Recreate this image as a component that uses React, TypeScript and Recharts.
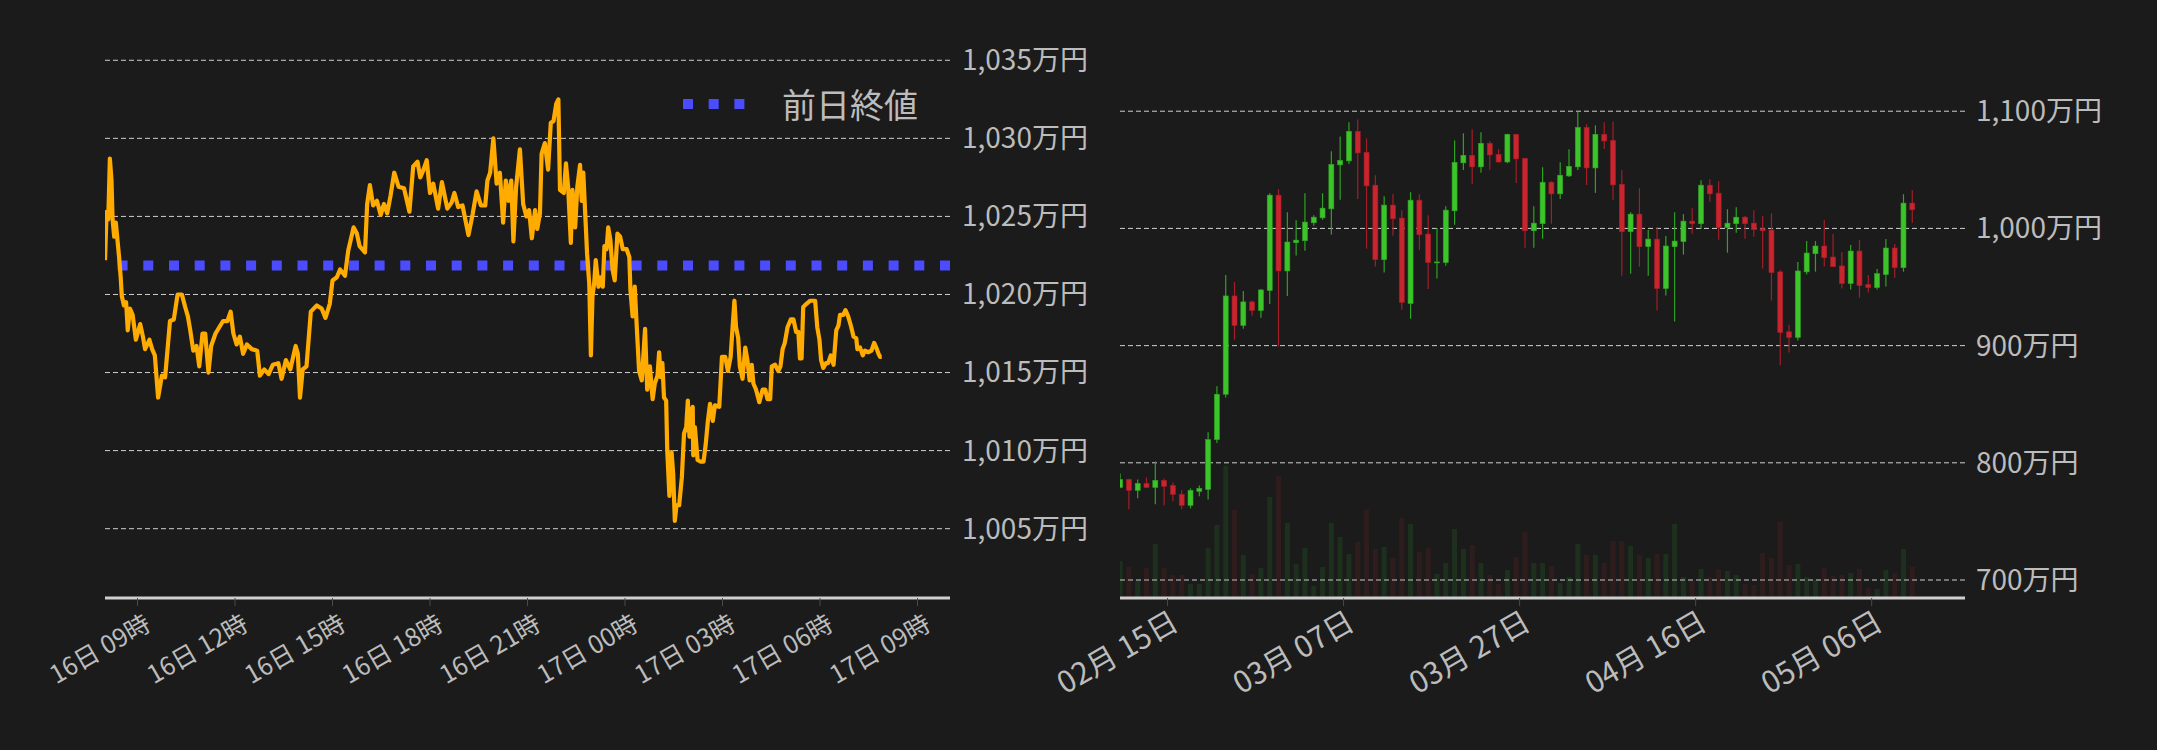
import React from "react";
import {
  ComposedChart,
  Line,
  Bar,
  Cell,
  XAxis,
  YAxis,
  CartesianGrid,
  ReferenceLine,
  Legend,
} from "recharts";

const BG = "#1b1b1b";
const TEXT = "#bcbcbc";
const GRID = "#cfcfcf";
const FONT = "'Noto Sans CJK JP', 'Noto Sans', sans-serif";
const PRICE_COLOR = "#ffab00";
const PREV_COLOR = "#4c4cff";
const UP = "#3cc52a";
const UP_EDGE = "#2fa322";
const DOWN = "#c9252f";
const DOWN_EDGE = "#a31e27";

// ---- intraday (minutes from 16日 00:00, price in 万円) ----
const minutes = [
  480, 483, 486, 489, 492, 494, 497, 500, 503, 506, 509, 511, 515, 519, 522, 526, 531, 537, 545, 550,
  554, 562, 567, 572, 578, 585, 591, 596, 600, 607, 614, 622, 628, 633, 637, 643, 649, 654, 660, 665,
  671, 676, 684, 691, 698, 706, 712, 717, 723, 729, 735, 742, 751, 761, 766, 774, 782, 790, 800, 806,
  814, 822, 832, 836, 840, 845, 852, 860, 871, 880, 887, 895, 900, 908, 914, 923, 929, 939, 945, 950,
  960, 964, 969, 975, 982, 989, 995, 1001, 1007, 1014, 1022, 1032, 1042, 1049, 1057, 1062, 1068, 1074, 1080, 1086,
  1095, 1102, 1112, 1120, 1125, 1132, 1140, 1151, 1159, 1166, 1174, 1182, 1186, 1191, 1197, 1203, 1209, 1215, 1220, 1225,
  1230, 1234, 1239, 1246, 1252, 1258, 1263, 1268, 1274, 1278, 1283, 1286, 1292, 1298, 1303, 1308, 1313, 1317, 1320, 1327,
  1331, 1335, 1340, 1343, 1348, 1352, 1357, 1360, 1363, 1368, 1370, 1374, 1377, 1380, 1383, 1386, 1391, 1394, 1399, 1402,
  1406, 1409, 1413, 1417, 1421, 1426, 1431, 1436, 1443, 1448, 1450, 1454, 1458, 1461, 1466, 1471, 1477, 1481, 1486, 1491,
  1495, 1500, 1503, 1506, 1509, 1512, 1516, 1518, 1522, 1526, 1529, 1532, 1535, 1540, 1545, 1549, 1553, 1556, 1559, 1562,
  1565, 1566, 1569, 1574, 1579, 1585, 1589, 1593, 1597, 1602, 1606, 1614, 1619, 1625, 1630, 1635, 1639, 1642, 1645, 1649,
  1652, 1657, 1662, 1666, 1670, 1674, 1677, 1682, 1688, 1694, 1699, 1703, 1708, 1711, 1717, 1723, 1727, 1731, 1735, 1740,
  1746, 1751, 1756, 1760, 1763, 1766, 1769, 1775, 1782, 1791, 1795, 1799, 1802, 1806, 1811, 1815, 1820, 1825, 1830, 1834,
  1837, 1843, 1847, 1852, 1857, 1862, 1867, 1869, 1874, 1879, 1883, 1889, 1895, 1900, 1905, 1908, 1911, 1914,
];
const prices = [
  1022.2, 1025.3, 1024.8, 1028.7, 1027.3, 1024.8, 1023.7, 1024.6, 1023.5, 1022.4, 1021.1, 1019.9, 1019.3, 1019.5, 1017.7, 1019.1, 1018.7, 1017.1, 1018.1, 1017.3,
  1016.5, 1017.1, 1016.5, 1016.1, 1013.4, 1014.8, 1014.7, 1016.7, 1018.3, 1018.4, 1020.0, 1020.0, 1019.2, 1018.6, 1017.8, 1016.4, 1016.7, 1015.4, 1017.5, 1017.5,
  1015.0, 1016.7, 1017.5, 1017.9, 1018.3, 1018.3, 1018.9, 1017.5, 1016.8, 1017.3, 1016.2, 1016.8, 1016.5, 1016.4, 1014.8, 1015.2, 1014.9, 1015.5, 1015.6, 1014.6,
  1015.8, 1015.2, 1016.7, 1016.2, 1013.4, 1015.2, 1015.4, 1018.9, 1019.3, 1019.1, 1018.5, 1019.4, 1020.9, 1021.1, 1021.6, 1021.2, 1022.8, 1024.3, 1023.9, 1023.1,
  1022.7, 1025.8, 1027.0, 1025.7, 1026.0, 1025.1, 1025.8, 1025.2, 1026.3, 1027.8, 1026.9, 1026.8, 1025.3, 1028.2, 1028.5, 1027.5, 1028.0, 1028.6, 1026.5, 1027.1,
  1025.5, 1027.2, 1025.5, 1025.9, 1026.5, 1025.6, 1025.7, 1023.8, 1025.2, 1026.6, 1025.7, 1025.7, 1027.3, 1027.8, 1030.0, 1027.1, 1027.8, 1024.6, 1027.3, 1026.0,
  1027.3, 1023.4, 1026.9, 1029.3, 1025.8, 1025.0, 1025.4, 1023.6, 1025.4, 1024.2, 1025.2, 1029.0, 1029.7, 1028.0, 1031.0, 1031.1, 1032.2, 1032.5, 1026.7, 1026.5,
  1028.4, 1026.9, 1023.3, 1026.7, 1024.3, 1026.9, 1028.3, 1026.0, 1027.8, 1024.1, 1022.6, 1020.7, 1016.1, 1019.9, 1020.7, 1022.2, 1020.5, 1021.1, 1020.5, 1023.1,
  1022.9, 1024.3, 1023.5, 1021.6, 1020.9, 1023.9, 1023.7, 1022.9, 1022.9, 1022.4, 1020.3, 1018.6, 1020.5, 1018.4, 1015.1, 1014.5, 1017.8, 1013.9, 1015.4, 1013.3,
  1014.3, 1014.8, 1016.3, 1014.7, 1015.6, 1013.4, 1013.2, 1010.0, 1007.1, 1009.9, 1008.5, 1005.5, 1006.5, 1006.5, 1008.3, 1011.1, 1011.5, 1013.2, 1010.9, 1012.6,
  1012.8, 1009.7, 1011.5, 1009.4, 1009.3, 1009.3, 1010.4, 1011.9, 1013.0, 1011.9, 1012.9, 1012.8, 1016.0, 1016.0, 1015.1, 1016.0, 1018.1, 1019.6, 1017.9, 1017.2,
  1015.4, 1014.6, 1016.6, 1015.8, 1014.5, 1015.5, 1014.3, 1013.9, 1013.1, 1013.9, 1013.9, 1013.3, 1013.3, 1015.4, 1015.5, 1015.1, 1015.4, 1016.5, 1016.9, 1017.9,
  1018.4, 1018.4, 1017.6, 1017.6, 1015.9, 1015.9, 1019.2, 1019.4, 1019.6, 1019.6, 1017.9, 1017.1, 1015.8, 1015.3, 1015.6, 1015.6, 1016.1, 1015.5, 1017.7, 1018.0,
  1018.7, 1018.7, 1019.0, 1018.6, 1018.0, 1017.3, 1017.2, 1016.5, 1016.6, 1016.1, 1016.4, 1016.3, 1016.4, 1016.9, 1016.5, 1016.2, 1016.0, 1016.0,
];
const prevClose = 1021.86;
const prevCloseLabel = "前日終値";
const hourTicks = [540, 720, 900, 1080, 1260, 1440, 1620, 1800, 1980];
const hourLabels = [
  "16日 09時", "16日 12時", "16日 15時", "16日 18時", "16日 21時",
  "17日 00時", "17日 03時", "17日 06時", "17日 09時",
];
const intradayTicks = [1005, 1010, 1015, 1020, 1025, 1030, 1035];

// ---- daily candles (万円) ----
const opens = [
  779, 785.8, 776.5, 782.4, 779, 785, 780.7, 773.1, 763.7, 775.6,
  777.3, 819.8, 858.5, 942.4, 917.2, 937.3, 930, 947, 1028.4, 963.7,
  987.8, 989.5, 1004.8, 1009, 1016.7, 1054.2, 1057.6, 1082.8, 1064.9, 1036.9,
  973.3, 1019.9, 1008.8, 935.9, 1024.1, 995.2, 970.8, 970.8, 1015, 1055.9,
  1062.4, 1052.5, 1072.6, 1063.2, 1056.7, 1080.3, 1059.8, 998, 1004, 1039.4,
  1029.5, 1044.8, 1052.5, 1086.2, 1051.6, 1080.3, 1075.1, 1037.7, 997.2, 1012.2,
  984.4, 990.9, 948.7, 984.4, 988.7, 1006.2, 1004, 1036.9, 1030.1, 1000.6,
  1004, 1009.6, 1004.5, 999.7, 998.6, 962.9, 911.8, 907, 962.9, 978.4,
  985, 975.6, 968, 952.9, 980.7, 952.1, 949.5, 960.6, 983.3, 966.5,
  1021.6,
];
const highs = [
  790.9, 786.5, 785.8, 787.5, 801.1, 786.7, 783.3, 776.5, 778.2, 780.7,
  826, 865.3, 960.3, 954.3, 946.7, 938.5, 948.4, 1030, 1033.5, 1013.9,
  1007, 1030, 1011.3, 1030, 1065.8, 1078.5, 1090.5, 1093, 1076.8, 1045.4,
  1027.5, 1029.2, 1015.6, 1030.9, 1029.2, 1011.3, 1000.3, 1019, 1075.1, 1081.1,
  1084.5, 1082, 1074.3, 1067.5, 1080.8, 1080.8, 1060.2, 1019, 1052.2, 1040.3,
  1056.4, 1067.5, 1099.5, 1088.8, 1088, 1090.5, 1091.3, 1049.6, 1013.9, 1034.3,
  998.6, 1001.1, 993.5, 1013.9, 1012.2, 1017.3, 1041.1, 1042, 1040.3, 1016.4,
  1018.1, 1010.5, 1015.6, 1010.5, 1013, 964.6, 917.8, 971.4, 989.2, 989.2,
  1007.1, 995.2, 979.9, 985.8, 990, 960.3, 965.4, 990.9, 986.7, 1029.2,
  1032.6,
];
const lows = [
  778.2, 760.3, 769.7, 778.5, 764.6, 763.7, 767.1, 760.3, 761.1, 771.4,
  768.8, 817, 855.7, 905, 914.4, 925.4, 923.7, 935.6, 899.3, 942.4,
  976.8, 981, 1002.3, 1007.4, 994.6, 1024.4, 1055, 1025.2, 982.7, 967.4,
  962.3, 993.8, 930.5, 922.9, 981.6, 948.4, 957.2, 968.2, 1003.1, 1049.9,
  1038, 1047.4, 1050, 1055.9, 1055.6, 1038.8, 983.6, 983.6, 991.2, 1004,
  1025.2, 1043.9, 1049.9, 1037.1, 1030.3, 1067.8, 1024.4, 959.7, 961.4, 967.4,
  959.7, 930, 942.7, 920.6, 977.6, 995.5, 999.7, 1022.7, 990.4, 979.3,
  996.3, 991.2, 992.9, 965.7, 938.5, 883.2, 894.2, 904.4, 960.6, 963.1,
  967.4, 967, 948.7, 947.8, 941, 945.3, 947.8, 950.4, 958, 963.1,
  1004.8,
];
const closes = [
  785.8, 776.5, 782.4, 779, 785, 779.9, 773.1, 763.7, 776.5, 778.2,
  819.8, 858.5, 942.4, 917.2, 937.3, 930, 947.5, 1028.4, 963.7, 988.4,
  990, 1005.4, 1009.6, 1017.3, 1054.7, 1058, 1082.8, 1064.4, 1036.3, 973.3,
  1019.9, 1008.2, 936.8, 1024.1, 994.6, 970.8, 971.4, 1015.6, 1056.4, 1062.4,
  1052.5, 1072.6, 1062.7, 1056.7, 1080.3, 1059.3, 998, 1004.5, 1039.4, 1029.5,
  1045.4, 1053, 1086.2, 1051.6, 1080.3, 1074.6, 1037.1, 997.2, 1012.2, 984.4,
  990.9, 948.7, 985, 989.2, 1006.2, 1004, 1036.9, 1029.5, 1000.6, 1004.5,
  1009.6, 1004, 998.9, 998, 962.3, 911.2, 907, 963.7, 979, 985,
  975, 967.4, 952.9, 980.7, 951.2, 949.5, 961.4, 983.3, 966.5, 1021.6,
  1015.9,
];
const volumes = [
  37, 31, 18, 30, 54, 30, 23, 23, 14, 14,
  50, 73, 132, 88, 43, 24, 30, 101, 122, 75,
  34, 50, 12, 31, 75, 61, 44, 56, 88, 49,
  51, 40, 80, 74, 46, 50, 24, 35, 69, 49,
  53, 35, 23, 14, 28, 41, 66, 35, 35, 32,
  15, 21, 54, 43, 43, 35, 57, 57, 52, 43,
  40, 44, 44, 74, 21, 17, 29, 21, 29, 27,
  23, 14, 13, 45, 40, 76, 33, 34, 21, 18,
  30, 22, 23, 25, 29, 10, 9, 28, 25, 49,
  31,
];
const dayTicks = [5.4, 25.4, 45.4, 65.4, 85.4];
const dayLabels = ["02月 15日", "03月 07日", "03月 27日", "04月 16日", "05月 06日"];
const dailyTicks = [700, 800, 900, 1000, 1100];

const intraday = minutes.map((t, i) => ({ t, price: prices[i] }));
const daily = opens.map((open, i) => ({
  i,
  open,
  high: highs[i],
  low: lows[i],
  close: closes[i],
  volume: volumes[i],
}));

const yen = (v: number) => `${v.toLocaleString("en-US")}万円`;

const SlantTick = (props: any) => {
  const { x, y, payload, ticks, labels, fontSize, dx, dy } = props;
  const label = labels[ticks.indexOf(payload.value)];
  const ax = x + dx;
  const ay = y + dy;
  return (
    <text
      x={ax}
      y={ay}
      transform={`rotate(-30, ${ax}, ${ay})`}
      textAnchor="end"
      fill={TEXT}
      fontSize={fontSize}
      fontFamily={FONT}
    >
      {label}
    </text>
  );
};

const Candle = (props: any) => {
  const { x, y, width, height, payload } = props;
  if (x == null || y == null || !payload) return null;
  const { open, close, high, low } = payload;
  const up = close >= open;
  const k = high > low ? height / (high - low) : 0;
  const top = y + (high - Math.max(open, close)) * k;
  const bottom = y + (high - Math.min(open, close)) * k;
  const cx = x + width / 2;
  return (
    <g>
      <line x1={cx} x2={cx} y1={y} y2={y + height} stroke={up ? UP_EDGE : DOWN_EDGE} strokeWidth={1.2} />
      <rect
        x={x}
        y={top}
        width={width}
        height={Math.max(bottom - top, 1)}
        fill={up ? UP : DOWN}
        stroke={up ? UP_EDGE : DOWN_EDGE}
        strokeWidth={0.6}
      />
    </g>
  );
};

// legend: dotted marker + label, as HTML so the text is never clipped
const PrevCloseLegend = () => (
  <div style={{ display: "flex", alignItems: "center", whiteSpace: "nowrap" }}>
    <svg width={76} height={20} style={{ display: "block" }}>
      <line x1={7} x2={69} y1={10} y2={10} stroke={PREV_COLOR} strokeWidth={10} strokeDasharray="10 15.7" />
    </svg>
    <span style={{ marginLeft: 30, color: TEXT, fontSize: 34, fontFamily: FONT, lineHeight: "44px" }}>
      {prevCloseLabel}
    </span>
  </div>
);

function IntradayChart() {
  return (
    <ComposedChart width={1100} height={750} data={intraday} margin={{ top: 30, right: 0, bottom: 0, left: 105 }}>
      <CartesianGrid vertical={false} horizontalValues={intradayTicks} stroke={GRID} strokeDasharray="5 3" />
      <XAxis
        type="number"
        dataKey="t"
        domain={[480, 2040]}
        ticks={hourTicks}
        interval={0}
        allowDataOverflow
        height={152}
        axisLine={{ stroke: "#cfcfcf", strokeWidth: 3 }}
        tickLine={{ stroke: "#4a4a4a" }}
        tickSize={8}
        tickMargin={2}
        tick={(p: any) => <SlantTick {...p} ticks={hourTicks} labels={hourLabels} fontSize={25} dx={15} dy={21} />}
      />
      <YAxis
        orientation="right"
        domain={[1000.56, 1036.94]}
        ticks={intradayTicks}
        interval={0}
        allowDataOverflow
        width={150}
        axisLine={false}
        tickLine={false}
        tickSize={6}
        tickMargin={6}
        tickFormatter={yen}
        tick={{ fill: TEXT, fontSize: 28, fontFamily: FONT }}
      />
      <ReferenceLine y={prevClose} stroke={PREV_COLOR} strokeWidth={10} strokeDasharray="10 15.7" />
      <Line
        type="linear"
        dataKey="price"
        stroke={PRICE_COLOR}
        strokeWidth={4.2}
        strokeLinejoin="round"
        dot={false}
        isAnimationActive={false}
      />
      <Legend
        verticalAlign="middle"
        align="center"
        layout="horizontal"
        content={() => <PrevCloseLegend />}
        wrapperStyle={{ left: 676, top: 82, width: 320, height: 44 }}
      />
    </ComposedChart>
  );
}

function DailyChart() {
  return (
    <ComposedChart width={1157} height={750} data={daily} margin={{ top: 30, right: 0, bottom: 0, left: 120 }}>
      <CartesianGrid
        vertical={false}
        horizontalValues={dailyTicks}
        stroke={GRID}
        strokeDasharray="5 3"
        xAxisId="px"
        yAxisId="px"
      />
      <XAxis
        xAxisId="px"
        type="number"
        dataKey="i"
        domain={[0, 96]}
        ticks={dayTicks}
        interval={0}
        allowDataOverflow
        height={152}
        axisLine={{ stroke: "#cfcfcf", strokeWidth: 3 }}
        tickLine={{ stroke: "#4a4a4a" }}
        tickSize={8}
        tickMargin={2}
        tick={(p: any) => <SlantTick {...p} ticks={dayTicks} labels={dayLabels} fontSize={30} dx={13} dy={20} />}
      />
      <XAxis xAxisId="vol" type="number" dataKey="i" domain={[0, 96]} allowDataOverflow hide />
      <YAxis
        yAxisId="px"
        orientation="right"
        domain={[684.65, 1169.3]}
        ticks={dailyTicks}
        interval={0}
        allowDataOverflow
        width={192}
        axisLine={false}
        tickLine={false}
        tickSize={6}
        tickMargin={5}
        tickFormatter={yen}
        tick={{ fill: TEXT, fontSize: 28, fontFamily: FONT }}
      />
      <YAxis yAxisId="vol" domain={[0, 568]} hide />
      <Bar xAxisId="vol" yAxisId="vol" dataKey="volume" barSize={5} isAnimationActive={false}>
        {daily.map((d, i) => (
          <Cell key={i} fill={d.close >= d.open ? "rgba(50,200,50,0.12)" : "rgba(200,50,50,0.12)"} />
        ))}
      </Bar>
      <Bar
        xAxisId="px"
        yAxisId="px"
        dataKey={(d: any) => [d.low, d.high]}
        barSize={5}
        shape={(p: any) => <Candle {...p} />}
        isAnimationActive={false}
      />
    </ComposedChart>
  );
}

export default function App() {
  return (
    <div style={{ position: "fixed", left: 0, top: 0, width: 2157, height: 750, background: BG, overflow: "hidden" }}>
      <div style={{ position: "absolute", left: 0, top: 0 }}>
        <IntradayChart />
      </div>
      <div style={{ position: "absolute", left: 1000, top: 0 }}>
        <DailyChart />
      </div>
    </div>
  );
}
